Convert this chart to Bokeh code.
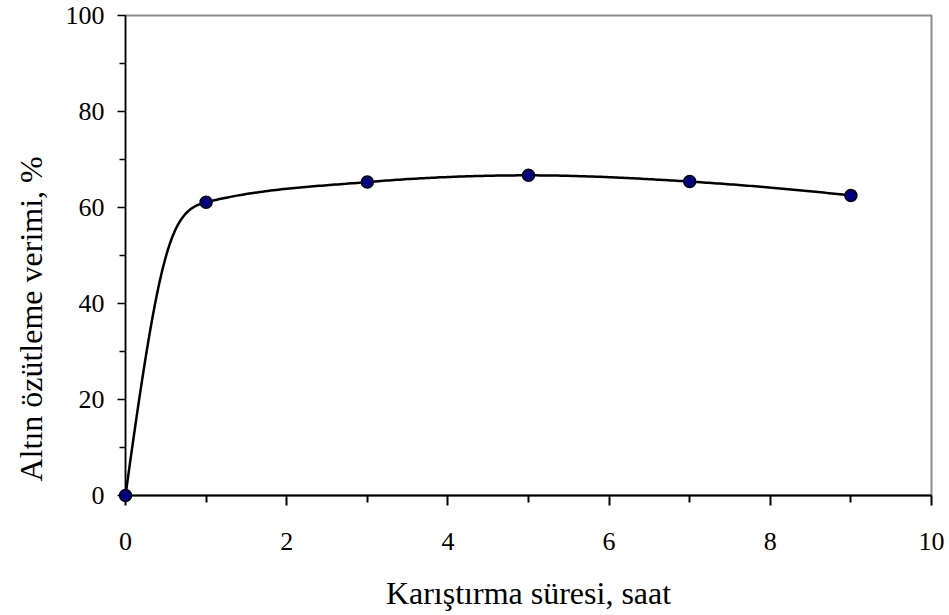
import numpy as np
from bokeh.plotting import figure
from bokeh.models import Range1d, FixedTicker, Title
from bokeh.embed import file_html
from bokeh.resources import INLINE

# ---- data ----
hours = [0, 1, 3, 5, 7, 9]
yield_pct = [0.0, 61.1, 65.3, 66.7, 65.4, 62.5]
x_ticks = [0, 2, 4, 6, 8, 10]
x_minor = [1, 3, 5, 7, 9]
y_ticks = [0, 20, 40, 60, 80, 100]
y_minor = [10, 30, 50, 70, 90]
x_title = "Karıştırma süresi, saat"
y_title = "Altın özütleme verimi, %"

FONT = "Liberation Serif"
TENSION = [1.3, 1.0, 1.0, 1.0, 1.0]   # curve styling per segment


def smooth(xs, ys, tension, n=60):
    """Smoothed curve through the points: cubic Bezier segments whose
    tangents are Steffen-type monotone slopes."""
    x = np.asarray(xs, float)
    y = np.asarray(ys, float)
    h = np.diff(x)
    d = np.diff(y) / h
    m = np.zeros_like(y)
    for i in range(1, len(x) - 1):
        if d[i - 1] * d[i] <= 0:
            m[i] = 0.0
        else:
            pp = (h[i - 1] * d[i] + h[i] * d[i - 1]) / (h[i - 1] + h[i])
            m[i] = np.sign(d[i]) * 2 * min(abs(d[i - 1]), abs(d[i]), 0.5 * abs(pp))
    m[0] = 2 * d[0]
    m[-1] = d[-1] * (1 + h[-1] / (h[-1] + h[-2])) - d[-2] * h[-1] / (h[-1] + h[-2])
    ox, oy = [], []
    for i in range(len(x) - 1):
        k = tension[i]
        t = np.linspace(0, 1, n, endpoint=(i == len(x) - 2))
        p0 = np.array([x[i], y[i]])
        p3 = np.array([x[i + 1], y[i + 1]])
        c1 = p0 + k * h[i] / 3 * np.array([1.0, m[i]])
        c2 = p3 - k * h[i] / 3 * np.array([1.0, m[i + 1]])
        b0 = (1 - t) ** 3
        b1 = 3 * t * (1 - t) ** 2
        b2 = 3 * t**2 * (1 - t)
        b3 = t**3
        ox.extend(b0 * p0[0] + b1 * c1[0] + b2 * c2[0] + b3 * p3[0])
        oy.extend(b0 * p0[1] + b1 * c1[1] + b2 * c2[1] + b3 * p3[1])
    return ox, oy


cx, cy = smooth(hours, yield_pct, TENSION)

p = figure(width=949, height=615, output_backend="svg", toolbar_location=None,
           x_range=Range1d(0, 10), y_range=Range1d(0, 100),
           min_border_left=124, min_border_right=18, min_border_top=15,
           min_border_bottom=120)

p.background_fill_color = "white"
p.border_fill_color = "white"
p.outline_line_color = "#8c8c8c"
p.outline_line_width = 2
p.xgrid.visible = False
p.ygrid.visible = False

p.line(cx, cy, line_color="black", line_width=2.5)
pts = p.scatter(hours, yield_pct, size=12, fill_color="#000080", line_color="black",
                line_width=1.5)
pts.level = "overlay"

xa = p.xaxis[0]
xa.ticker = FixedTicker(ticks=x_ticks, minor_ticks=x_minor)
xa.axis_line_color = "black"
xa.axis_line_width = 2
xa.major_tick_line_color = "black"
xa.major_tick_line_width = 2
xa.minor_tick_line_color = "black"
xa.minor_tick_line_width = 2
xa.major_tick_in = 0
xa.major_tick_out = 10
xa.minor_tick_in = 0
xa.minor_tick_out = 7
xa.major_label_standoff = 27
xa.axis_label = x_title
xa.axis_label_standoff = 22

ya = p.yaxis[0]
ya.ticker = FixedTicker(ticks=y_ticks, minor_ticks=y_minor)
ya.axis_line_color = "black"
ya.axis_line_width = 1.5
ya.major_tick_line_color = "black"
ya.major_tick_line_width = 1.5
ya.minor_tick_line_color = "black"
ya.minor_tick_line_width = 1.5
ya.major_tick_in = 0
ya.major_tick_out = 8
ya.minor_tick_in = 0
ya.minor_tick_out = 6
ya.major_label_standoff = 13

for ax in (xa, ya):
    ax.major_label_text_font = FONT
    ax.major_label_text_font_size = "26px"
    ax.major_label_text_font_style = "normal"
    ax.major_label_text_color = "black"
    ax.axis_label_text_font = FONT
    ax.axis_label_text_font_size = "32px"
    ax.axis_label_text_font_style = "normal"
    ax.axis_label_text_color = "black"

ytitle = Title(text=y_title, align="left", offset=14, vertical_align="top",
               standoff=24, text_font=FONT, text_font_size="32px",
               text_font_style="normal", text_color="black")
p.add_layout(ytitle, "left")

open("out.html", "w").write(file_html(p, INLINE))
